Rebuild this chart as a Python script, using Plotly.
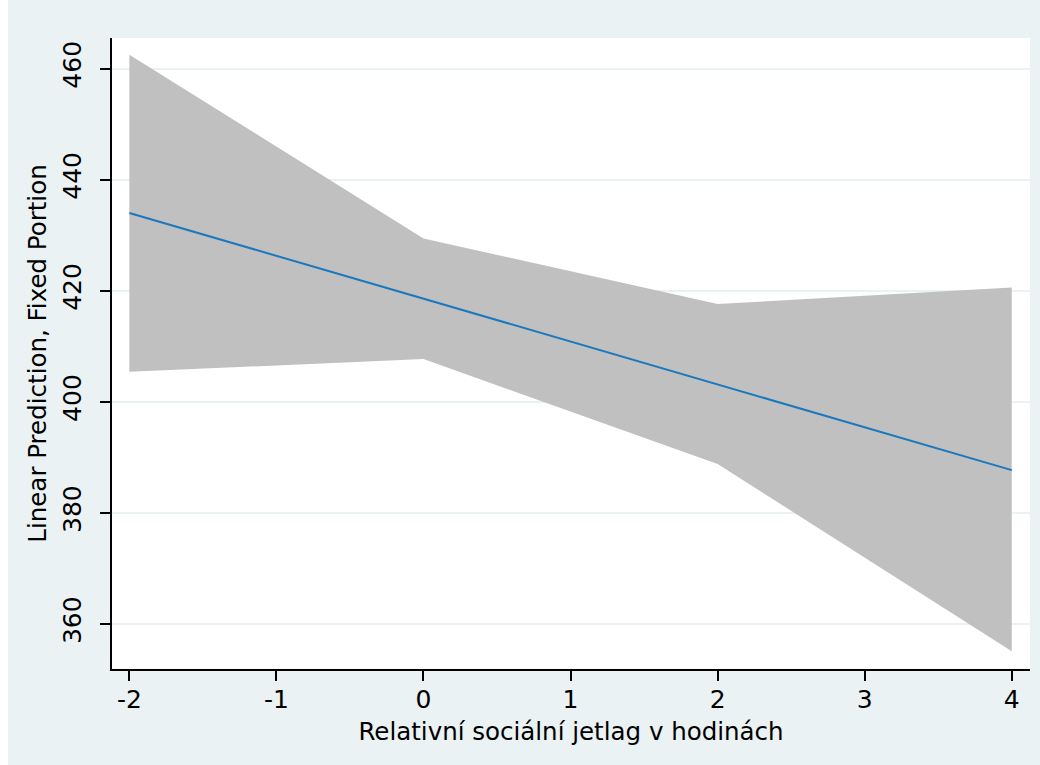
import plotly.graph_objects as go

# Predicted values with 95% confidence band
jetlag = [-2, 0, 2, 4]
prediction = [434.0, 418.6, 403.2, 387.7]
ci_upper = [462.5, 429.4, 417.6, 420.6]
ci_lower = [405.4, 407.7, 388.8, 355.1]

x_ticks = [-2, -1, 0, 1, 2, 3, 4]
x_ticklabels = ["-2", "-1", "0", "1", "2", "3", "4"]
y_ticks = [360, 380, 400, 420, 440, 460]

panel = "rgb(234,242,243)"
font = "DejaVu Sans"

fig = go.Figure()
fig.add_trace(go.Scatter(x=jetlag, y=ci_lower, mode="lines", line=dict(width=0),
                         showlegend=False, hoverinfo="skip"))
fig.add_trace(go.Scatter(x=jetlag, y=ci_upper, mode="lines", line=dict(width=0),
                         fill="tonexty", fillcolor="rgb(192,192,192)",
                         showlegend=False, hoverinfo="skip"))
fig.add_trace(go.Scatter(x=jetlag, y=prediction, mode="lines",
                         line=dict(color="rgb(26,120,190)", width=2),
                         showlegend=False))

L, R, T, B = 112, 10, 38, 96
W, H = 1040, 765
pw, ph = W - L - R, H - T - B

# white border strips along the left and top of the outer panel
fig.add_shape(type="rect", xref="paper", yref="paper", layer="below",
              x0=-L / pw, x1=(8 - L) / pw, y0=-B / ph, y1=(H - T) / ph,
              fillcolor="white", line=dict(width=0))
fig.add_shape(type="rect", xref="paper", yref="paper", layer="below",
              x0=-L / pw, x1=(W - L) / pw, y0=(H - T - 11) / ph, y1=(H - T) / ph,
              fillcolor="white", line=dict(width=0))

tick_font = dict(family=font, size=25, color="black")

fig.update_layout(
    width=W, height=H,
    margin=dict(l=L, r=R, t=T, b=B),
    paper_bgcolor=panel, plot_bgcolor="white",
    font=dict(family=font, size=24, color="black"),
    xaxis=dict(range=[-2.118, 4.124], tickvals=x_ticks, ticktext=x_ticklabels,
               showgrid=False, tickfont=tick_font,
               zeroline=False, showline=True, linecolor="black", linewidth=2,
               ticks="outside", ticklen=10, tickwidth=2, tickcolor="black",
               ticklabelstandoff=-3,
               title=dict(text="Relativní sociální jetlag v hodinách",
                          font=dict(family=font, size=24.5), standoff=10)),
    yaxis=dict(range=[351.9, 465.5], tickvals=y_ticks, showgrid=True,
               gridcolor=panel, gridwidth=2, zeroline=False, tickfont=tick_font,
               showline=True, linecolor="black", linewidth=2,
               ticks="outside", ticklen=10, tickwidth=2, tickcolor="black",
               tickangle=-90, ticklabelstandoff=9,
               title=dict(text="Linear Prediction, Fixed Portion",
                          font=dict(family=font, size=24.5), standoff=4)),
)

fig.write_html("out.html")
